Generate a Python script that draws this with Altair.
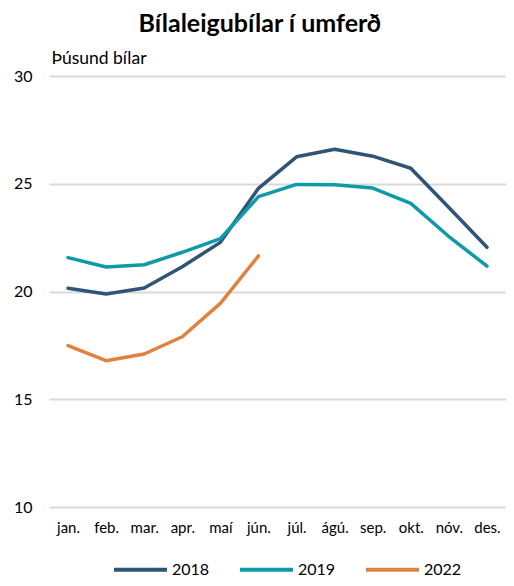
import altair as alt
import pandas as pd

months = ["jan.", "feb.", "mar.", "apr.", "maí", "jún.", "júl.", "ágú.", "sep.", "okt.", "nóv.", "des."]
y2018 = [20.15, 19.88, 20.16, 21.15, 22.28, 24.79, 26.25, 26.6, 26.28, 25.72, 23.9, 22.05]
y2019 = [21.57, 21.14, 21.24, 21.82, 22.45, 24.40, 24.97, 24.95, 24.80, 24.09, 22.55, 21.18]
y2022 = [17.49, 16.79, 17.10, 17.90, 19.45, 21.65]
years = ["2018", "2019", "2022"]
colors = ["#2f5476", "#0e9aa8", "#e0823f"]

rows = []
for yr, vals in zip(years, [y2018, y2019, y2022]):
    for m, v in zip(months, vals):
        rows.append({"mánuður": m, "ár": yr, "gildi": v})
df = pd.DataFrame(rows)

FONT = "Lato"

chart = alt.Chart(df).mark_line(strokeWidth=3.5, strokeCap="round", strokeJoin="round").encode(
    x=alt.X("mánuður:N", sort=months, title=None,
            axis=alt.Axis(labelAngle=0, domain=False, ticks=False, labelPadding=13,
                          labelFontSize=15, labelFont=FONT, labelColor="#000000")),
    y=alt.Y("gildi:Q", scale=alt.Scale(domain=[10, 30]),
            axis=alt.Axis(values=[10, 15, 20, 25, 30], domain=False, ticks=False,
                          labelPadding=17, labelFontSize=16, labelFont=FONT, labelColor="#000000",
                          gridColor="#d9d9d9", gridWidth=2,
                          title="Þúsund bílar", titleAngle=0, titleAlign="left",
                          titleBaseline="alphabetic", titleX=2, titleY=-13,
                          titleFont=FONT, titleFontSize=17.5, titleFontWeight="normal",
                          titleColor="#000000")),
    color=alt.Color("ár:N", scale=alt.Scale(domain=years, range=colors),
                    legend=alt.Legend(title=None, orient="none", direction="horizontal",
                                      legendX=63, legendY=465,
                                      symbolType="stroke", symbolSize=2809, symbolStrokeWidth=4,
                                      labelFontSize=16, labelFont=FONT, labelColor="#000000",
                                      labelOffset=3, columnPadding=22)),
).properties(
    width=457, height=431,
    title=alt.TitleParams("Bílaleigubílar í umferð", fontSize=25, font=FONT, fontWeight="bold",
                          anchor="middle", frame="bounds", offset=12, color="#000000"),
    autosize=alt.AutoSizeParams(type="none"),
    padding={"left": 41, "top": 68, "right": 0, "bottom": 71},
).configure_view(stroke=None)

chart.save("out.html", embed_options={"renderer": "svg", "actions": False})
